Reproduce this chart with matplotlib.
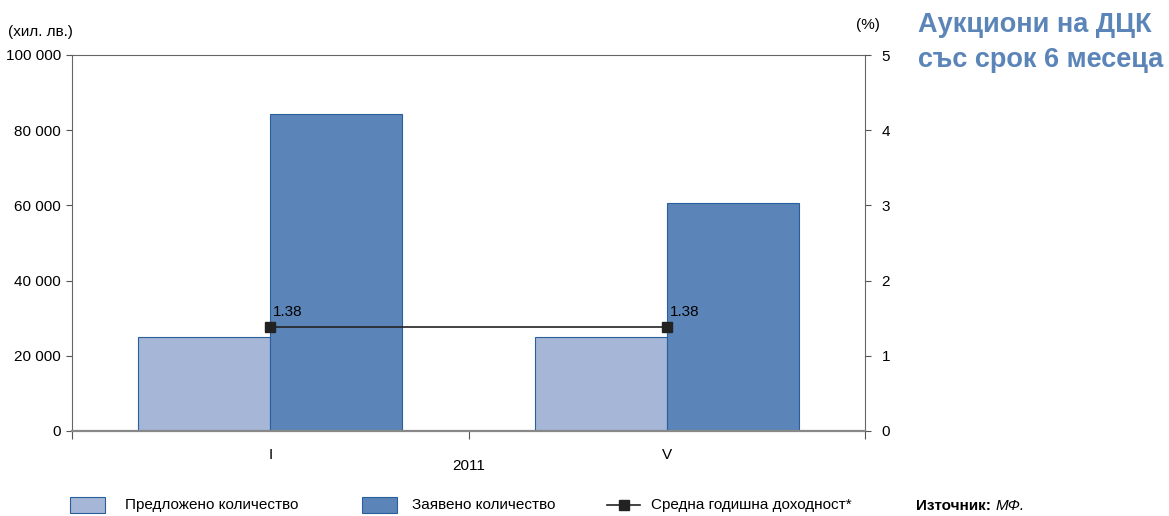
import matplotlib
matplotlib.use("Agg")
import matplotlib.pyplot as plt
from matplotlib.patches import Rectangle
from matplotlib.lines import Line2D

categories = ["I", "V"]
offered = [25000, 25000]
requested = [84300, 60600]
yield_pct = [1.38, 1.38]
left_ticks = [0, 20000, 40000, 60000, 80000, 100000]
right_ticks = [0, 1, 2, 3, 4, 5]
year_label = "2011"
legend_labels = ["Предложено количество", "Заявено количество", "Средна годишна доходност*"]

plt.rcParams['font.family'] = ['Liberation Sans', 'DejaVu Sans']

light = "#a5b6d7"
dark = "#5b85b8"
edge = "#2a5f9e"
title_col = "#5b85b8"
FS = 11

W, H = 1169, 516
def fx(px): return px / W
def fy(py): return 1 - py / H

fig = plt.figure(figsize=(11.69, 5.16), dpi=100)
ax = fig.add_axes([fx(72), fy(431), (865-72)/W, (431-55)/H])
x = list(range(len(categories)))
w = 1/3
ax.bar([i - w/2 for i in x], offered, width=w, color=light, edgecolor=edge, linewidth=0.8, zorder=2)
ax.bar([i + w/2 for i in x], requested, width=w, color=dark, edgecolor=edge, linewidth=0.8, zorder=2)
ax.set_xlim(-0.5, len(categories) - 0.5)
ax.set_ylim(0, 100000)
ax.set_yticks(left_ticks)
ax.set_yticklabels([f"{v:,}".replace(",", " ") for v in left_ticks], fontsize=FS)
ax.set_xticks([i - 0.5 for i in range(len(categories) + 1)])
ax.set_xticklabels([])
ax.set_xticks(x, minor=True)
ax.set_xticklabels(categories, minor=True, fontsize=FS)
ax.tick_params(axis='x', which='major', length=6, direction='out', color='#555555')
ax.tick_params(axis='x', which='minor', length=0, pad=12)
ax.tick_params(axis='y', length=4, color='#555555', pad=4)
for s in ['left', 'right', 'top']:
    ax.spines[s].set_color('#666666')
    ax.spines[s].set_linewidth(0.8)
ax.spines['bottom'].set_color('#888888')
ax.spines['bottom'].set_linewidth(1.6)

ax2 = ax.twinx()
ax2.set_ylim(0, 5)
ax2.set_yticks(right_ticks)
ax2.set_yticklabels([str(v) for v in right_ticks], fontsize=FS)
ax2.tick_params(axis='y', length=4, color='#555555', pad=8)
for s in ['left', 'right', 'top', 'bottom']:
    ax2.spines[s].set_visible(False)
ax2.plot(x, yield_pct, color='#222222', linewidth=1.2, marker='s', markersize=7,
         markerfacecolor='#222222', markeredgecolor='#222222', zorder=5)
for xi, v in zip(x, yield_pct):
    ax2.annotate(f"{v:.2f}", (xi, v), xytext=(2, 6), textcoords='offset points',
                 fontsize=FS, ha='left', va='bottom')

fig.text(fx(469), fy(466), year_label, ha='center', va='center', fontsize=FS)
fig.text(fx(8), fy(32), "(хил. лв.)", ha='left', va='center', fontsize=FS)
fig.text(fx(880), fy(25), "(%)", ha='right', va='center', fontsize=FS)
fig.text(fx(918), fy(25), "Аукциони на ДЦК", ha='left', va='center',
         fontsize=19.5, fontweight='bold', color=title_col)
fig.text(fx(918), fy(60), "със срок 6 месеца", ha='left', va='center',
         fontsize=19.5, fontweight='bold', color=title_col)

# manual legend
ly = 505
fig.add_artist(Rectangle((fx(70), fy(ly + 8)), 35/W, 16/H, transform=fig.transFigure,
                         facecolor=light, edgecolor=edge, linewidth=0.8))
fig.text(fx(125), fy(ly), legend_labels[0], ha='left', va='center', fontsize=FS)
fig.add_artist(Rectangle((fx(362), fy(ly + 8)), 35/W, 16/H, transform=fig.transFigure,
                         facecolor=dark, edgecolor=edge, linewidth=0.8))
fig.text(fx(412), fy(ly), legend_labels[1], ha='left', va='center', fontsize=FS)
fig.add_artist(Line2D([fx(607), fx(640)], [fy(ly), fy(ly)], transform=fig.transFigure,
                      color='#222222', linewidth=1.2))
fig.add_artist(Line2D([fx(624)], [fy(ly)], transform=fig.transFigure, marker='s',
                      markersize=7, color='#222222', linestyle='none'))
fig.text(fx(651), fy(ly), legend_labels[2], ha='left', va='center', fontsize=FS)

t = fig.text(fx(916), fy(ly + 1), "Източник: ", ha='left', va='center', fontsize=FS, fontweight='bold')
fig.canvas.draw()
bb = t.get_window_extent()
fig.text(bb.x1 / W, fy(ly + 1), "МФ.", ha='left', va='center', fontsize=FS, style='italic')

fig.savefig("out.png", dpi=100)
